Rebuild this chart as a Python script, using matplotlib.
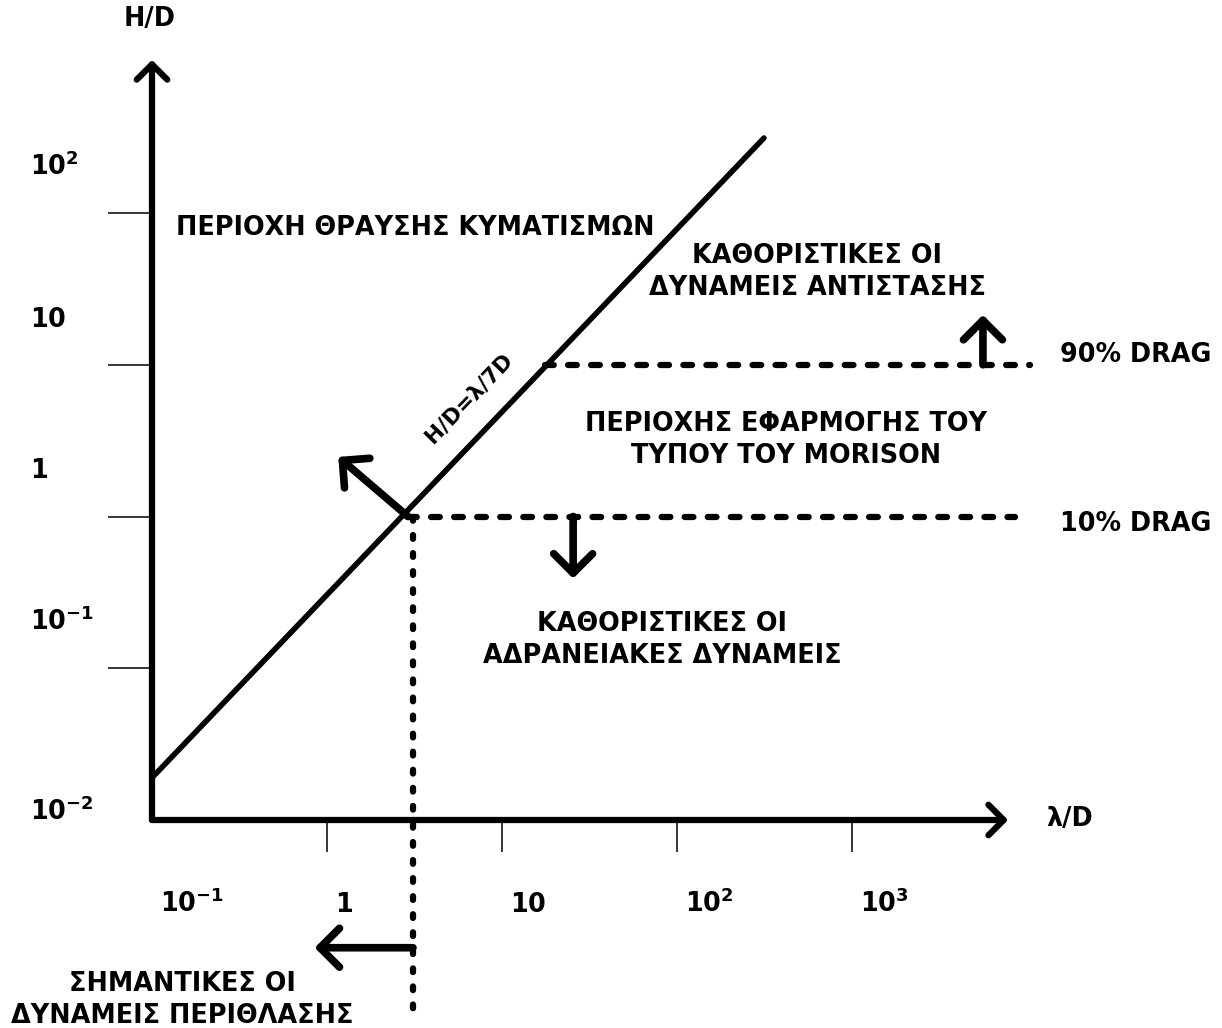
import matplotlib
matplotlib.use('Agg')
import matplotlib.pyplot as plt
from matplotlib.ticker import NullLocator

plt.rcParams['font.family'] = ['DejaVu Sans']
plt.rcParams['font.weight'] = 'bold'
plt.rcParams['lines.scale_dashes'] = False

# %%
# axis decades (log scale)
x_ticks = [0.1, 1, 10, 100, 1000]
x_tick_labels = [r'$\mathbf{10^{-1}}$', r'$\mathbf{1}$', r'$\mathbf{10}$',
                 r'$\mathbf{10^{2}}$', r'$\mathbf{10^{3}}$']
y_ticks = [0.01, 0.1, 1, 10, 100]
y_tick_labels = [r'$\mathbf{10^{-2}}$', r'$\mathbf{10^{-1}}$', r'$\mathbf{1}$',
                 r'$\mathbf{10}$', r'$\mathbf{10^{2}}$']
y_label_lift = [0, 38, 38, 38, 38]   # px the label sits above its tick

# axes extents
x_axis_end = 7800
y_axis_end = 1020

# wave breaking limit H/D = lambda/7D (schematic)
break_lam = [0.1, 314]
break_hd = [0.019, 312]

# drag limits
drag90_hd = 10
drag90_lam = [17.6, 10400]
drag10_hd = 1
drag10_lam = [2.9, 8500]

# diffraction limit
diffr_lam = 3.1
diffr_hd = [1, 5.6e-4]

# region arrows: (tail, head)
arrows = [
    ((2.9, 1), (1.16, 2.47)),
    ((25.5, 1), (25.5, 0.39)),
    ((5600, 10), (5600, 21.3)),
    ((3.1, 1.44e-3), (0.85, 1.44e-3)),
]

# %%
W, H = 1222, 1028
fig = plt.figure(figsize=(W / 100, H / 100), dpi=100)
ax = fig.add_axes([0, 0, 1, 1])
ax.set_xscale('log')
ax.set_yscale('log')
ax.set_xlim(10 ** (-1 - 152 / 175), 10 ** (-1 + (W - 152) / 175))
ax.set_ylim(10 ** (-2 - (H - 820) / 151.75), 10 ** (-2 + 820 / 151.75))

for s in ax.spines.values():
    s.set_visible(False)
ax.spines['bottom'].set_position(('data', y_ticks[0]))
ax.spines['left'].set_position(('data', x_ticks[0]))
ax.set_xticks(x_ticks[1:])
ax.set_yticks(y_ticks[1:])
ax.xaxis.set_minor_locator(NullLocator())
ax.yaxis.set_minor_locator(NullLocator())
ax.tick_params(axis='x', direction='out', length=23, width=1.1, labelbottom=False)
ax.tick_params(axis='y', direction='out', length=32, width=1.1, labelleft=False)

fs = 18.4


def arrow(tail, head, lw, size):
    ax.annotate('', xy=head, xytext=tail,
                arrowprops=dict(arrowstyle=f'->,head_length={size},head_width={size}',
                                lw=lw, color='black', shrinkA=0, shrinkB=0,
                                mutation_scale=20, capstyle='round', joinstyle='round'))


# axes with arrow heads
arrow((x_ticks[0], y_ticks[0]), (x_axis_end, y_ticks[0]), 4.5, 0.55)
arrow((x_ticks[0], y_ticks[0]), (x_ticks[0], y_axis_end), 4.5, 0.55)

# tick labels
for v, lab in zip(x_ticks, x_tick_labels):
    ax.annotate(lab, xy=(v, y_ticks[0]), xytext=(8, -92), textcoords='offset pixels',
                ha='left', va='baseline', fontsize=fs)
for v, lab, lift in zip(y_ticks, y_tick_labels, y_label_lift):
    ax.annotate(lab, xy=(x_ticks[0], v), xytext=(-122, lift), textcoords='offset pixels',
                ha='left', va='baseline', fontsize=fs)

# breaking line
ax.plot(break_lam, break_hd, color='black', lw=4, solid_capstyle='round')

# drag limits
ax.plot(drag90_lam, [drag90_hd] * 2, color='black', lw=4.5,
        linestyle=(0, (6.3, 10.3)), dash_capstyle='round')
ax.plot(drag10_lam, [drag10_hd] * 2, color='black', lw=4.5,
        linestyle=(0, (6.3, 10.3)), dash_capstyle='round')
ax.plot([diffr_lam] * 2, diffr_hd, color='black', lw=4.5,
        linestyle=(0, (2.7, 10.3)), dash_capstyle='round')

for tail, head in arrows:
    arrow(tail, head, 5.5, 0.7)


def label(x, y, s, **kw):
    fig.text(x / W, 1 - y / H, s, ha='center', va='center', fontsize=fs,
             fontweight='bold', multialignment='center', linespacing=1.28, **kw)


label(150, 19, 'H/D')
label(1070, 819, 'λ/D')
label(415, 228, 'ΠΕΡΙΟΧΗ ΘΡΑΥΣΗΣ ΚΥΜΑΤΙΣΜΩΝ')
label(817, 272, 'ΚΑΘΟΡΙΣΤΙΚΕΣ ΟΙ\nΔΥΝΑΜΕΙΣ ΑΝΤΙΣΤΑΣΗΣ')
label(786, 440, 'ΠΕΡΙΟΧΗΣ ΕΦΑΡΜΟΓΗΣ ΤΟΥ\nΤΥΠΟΥ ΤΟΥ MORISON')
label(662, 640, 'ΚΑΘΟΡΙΣΤΙΚΕΣ ΟΙ\nΑΔΡΑΝΕΙΑΚΕΣ ΔΥΝΑΜΕΙΣ')
label(182, 1000, 'ΣΗΜΑΝΤΙΚΕΣ ΟΙ\nΔΥΝΑΜΕΙΣ ΠΕΡΙΘΛΑΣΗΣ')
label(1136, 355, '90% DRAG')
label(1136, 524, '10% DRAG')
fig.text(469 / W, 1 - 398 / H, 'H/D=λ/7D', ha='center', va='center', rotation=46,
         rotation_mode='anchor', fontsize=15.5, fontweight='bold')

fig.savefig('out.png', dpi=100)
